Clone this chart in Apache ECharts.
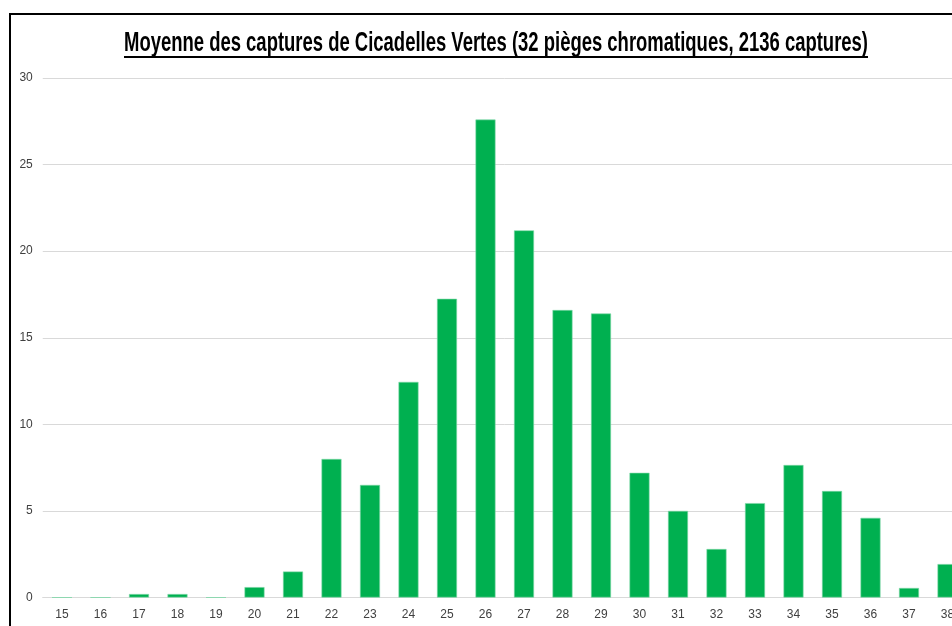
<!DOCTYPE html>
<html>
<head>
<meta charset="utf-8">
<script src="https://cdn.jsdelivr.net/npm/echarts@6/dist/echarts.min.js"></script>
<style>
  html, body { margin: 0; padding: 0; background: #fff; overflow: hidden; }
  #chart { width: 1000px; height: 660px; }
</style>
</head>
<body>
<div id="chart"></div>
<script>
// Semaines de piégeage (numéros de semaine)
const semaines = ['15','16','17','18','19','20','21','22','23','24','25','26','27','28','29','30','31','32','33','34','35','36','37','38'];
// Moyenne des captures par piège et par semaine
const moyennes = [0, 0, 0.2, 0.2, 0, 0.6, 1.5, 8.0, 6.5, 12.45, 17.25, 27.6, 21.2, 16.6, 16.4, 7.2, 5.0, 2.8, 5.45, 7.65, 6.15, 4.6, 0.55, 1.93];
// Graduations de l'axe vertical
const yMin = 0, yMax = 30, yPas = 5;

const titre = 'Moyenne des captures de Cicadelles Vertes (32 pièges chromatiques, 2136 captures)';

const chart = echarts.init(document.getElementById('chart'), null, { renderer: 'canvas' });
const bandWidth = 38.5;

// Titre en police étroite : texte gras compressé horizontalement
const titreCentreX = 496;
const titreBasY = 57;
const titreLargeur = 744;
const titreFont = 'bold 28px "Liberation Sans", Arial, sans-serif';
const largeurBrute = echarts.format.getTextRect
  ? echarts.format.getTextRect(titre, titreFont).width
  : 1125;
const titreEchelle = titreLargeur / largeurBrute;

chart.setOption({
  animation: false,
  backgroundColor: '#ffffff',
  graphic: [
    {
      type: 'rect',
      shape: { x: 10, y: 14, width: 1100, height: 800 },
      style: { fill: 'none', stroke: '#000', lineWidth: 2 },
      z: 100
    },
    {
      type: 'text',
      id: 'titre',
      x: titreCentreX,
      y: titreBasY,
      scaleX: titreEchelle,
      style: {
        text: titre,
        fill: '#000',
        font: titreFont,
        align: 'center',
        verticalAlign: 'bottom'
      },
      z: 100
    },
    {
      type: 'line',
      id: 'souligne',
      shape: { x1: titreCentreX - titreLargeur / 2, y1: 57, x2: titreCentreX + titreLargeur / 2, y2: 57 },
      style: { stroke: '#000', lineWidth: 2 },
      z: 100
    }
  ],
  grid: {
    left: 42.75,
    top: 78,
    width: bandWidth * semaines.length,
    height: 519.5,
    containLabel: false
  },
  xAxis: {
    type: 'category',
    data: semaines,
    axisLine: { show: true, lineStyle: { color: '#d9d9d9', width: 1 } },
    axisTick: { show: false },
    axisLabel: {
      color: '#404040',
      fontFamily: '"Liberation Sans", Arial, sans-serif',
      fontSize: 12,
      margin: 11
    }
  },
  yAxis: {
    type: 'value',
    min: yMin,
    max: yMax,
    interval: yPas,
    axisLine: { show: false },
    axisTick: { show: false },
    splitLine: { lineStyle: { color: '#d9d9d9', width: 1 } },
    axisLabel: {
      color: '#404040',
      fontFamily: '"Liberation Sans", Arial, sans-serif',
      fontSize: 12,
      margin: 10
    }
  },
  series: [
    {
      type: 'bar',
      data: moyennes,
      barWidth: 20,
      itemStyle: {
        color: '#00b050',
        borderColor: '#7fd7a7',
        borderWidth: 0.6
      }
    }
  ]
});
</script>
</body>
</html>
